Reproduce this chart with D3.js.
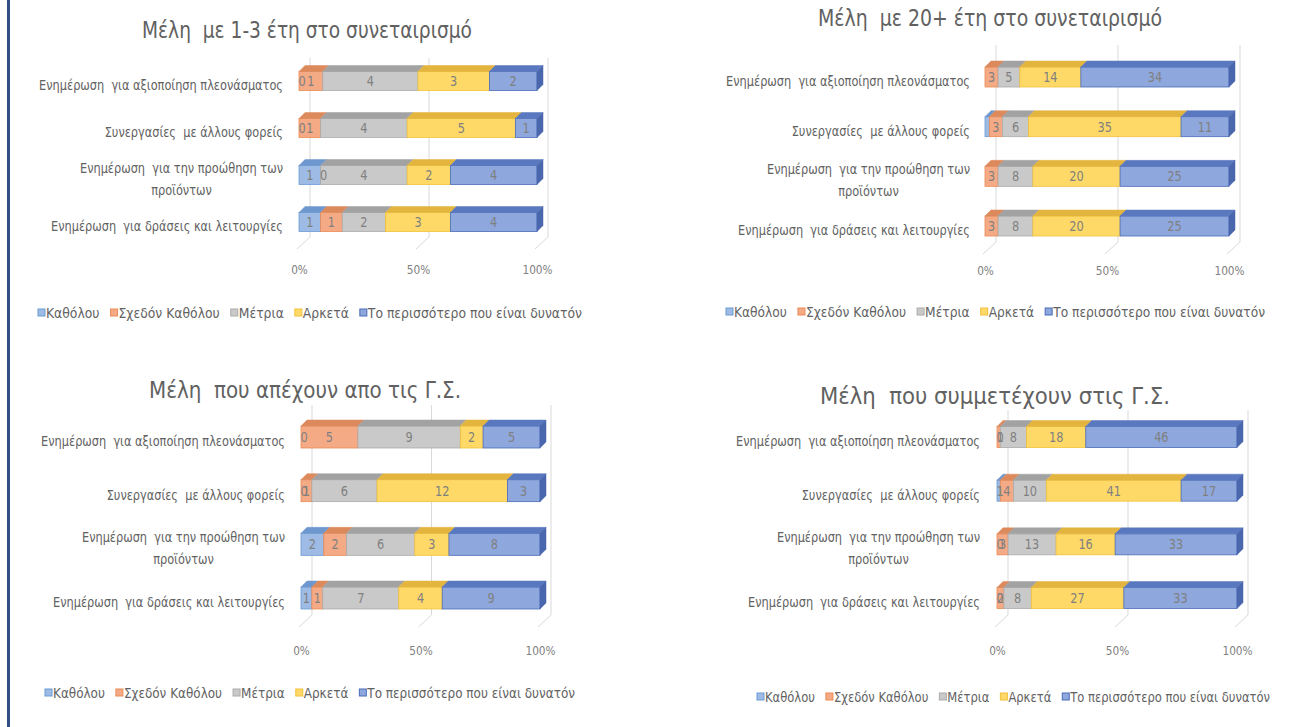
<!DOCTYPE html>
<html>
<head>
<meta charset="utf-8">
<script src="https://d3js.org/d3.v7.min.js"></script>
<style>
body { margin:0; background:#fff; }
text { font-family:"DejaVu Sans Condensed","DejaVu Sans",sans-serif; white-space:pre; }
</style>
</head>
<body>
<script>
// categories, top to bottom
var categories = [
  "Ενημέρωση  για αξιοποίηση πλεονάσματος",
  "Συνεργασίες  με άλλους φορείς",
  "Ενημέρωση  για την προώθηση των προϊόντων",
  "Ενημέρωση  για δράσεις και λειτουργίες"
];
var seriesNames = ["Καθόλου", "Σχεδόν Καθόλου", "Μέτρια", "Αρκετά", "Το περισσότερο που είναι δυνατόν"];
var titles = [
  "Μέλη  με 1-3 έτη στο συνεταιρισμό",
  "Μέλη  με 20+ έτη στο συνεταιρισμό",
  "Μέλη  που απέχουν απο τις Γ.Σ.",
  "Μέλη  που συμμετέχουν στις Γ.Σ."
];
var tickValues = [0, 0.5, 1];

// one row per category, one column per series (null = no value)
var members1to3 = [[0,1,4,3,2],[0,1,4,5,1],[1,0,4,2,4],[1,1,2,3,4]];
var members20plus = [[null,3,5,14,34],[1,3,6,35,11],[null,3,8,20,25],[null,3,8,20,25]];
var absentGA = [[0,5,9,2,5],[0,1,6,12,3],[2,2,6,3,8],[1,1,7,4,9]];
var presentGA = [[0,1,8,18,46],[1,4,10,41,17],[0,3,13,16,33],[0,2,8,27,33]];
// labels the original hides (row-series)
var hidden20plus = ["1-0"];

// colours per series: front, top, edge
var front = ["#9dbbe4", "#f5aa86", "#c9c9c9", "#ffd968", "#8ea7dd"];
var top_ = ["#6f97cf", "#dc8a5c", "#a2a2a2", "#e3b53e", "#5a78bf"];
var edge = ["#6a9bd3", "#ec8a55", "#ababab", "#f2c13a", "#4a6cb8"];
var side = "#4a66ad";

var svg = d3.select("body").append("svg")
  .attr("width", 1289).attr("height", 727);

svg.append("rect").attr("x", 7).attr("y", 0).attr("width", 3).attr("height", 727).attr("fill", "#2f4f80");

var panels = [
  {data: members1to3, hidden: [], title: titles[0], tx: 307, ty: 38, tw: 330, x0: 299, x1: 537, c0: 81, c1: 222, bh: 19,
   gTop: 58, gBot: 237, labR: 283, axY: 262, legX: 38, legW: 544, legY: 313},
  {data: members20plus, hidden: hidden20plus, title: titles[1], tx: 990, ty: 26, tw: 344, x0: 985, x1: 1229, c0: 77, c1: 226, bh: 20,
   gTop: 45, gBot: 242, labR: 970, axY: 263, legX: 726, legW: 539, legY: 312},
  {data: absentGA, hidden: [], title: titles[2], tx: 305, ty: 398, tw: 312, x0: 301, x1: 540, c0: 437, c1: 598, bh: 22,
   gTop: 405, gBot: 615, labR: 285, axY: 643, legX: 45, legW: 530, legY: 693},
  {data: presentGA, hidden: [], title: titles[3], tx: 995, ty: 404, tw: 350, x0: 997, x1: 1237, c0: 437, c1: 598, bh: 21,
   gTop: 410, gBot: 615, labR: 980, axY: 643, legX: 757, legW: 513, legY: 697}
];

var dx = 6, dy = 6, gOff = 11, squeeze = 0.9;

// narrow a text to mimic the condensed font of the original
function condense(sel, f) {
  var n = sel.node(), w = n.getComputedTextLength();
  if (w > 0) sel.attr("textLength", w * f).attr("lengthAdjust", "spacingAndGlyphs");
  return w * f;
}

panels.forEach(drawPanel);

function drawPanel(p) {
  var g = svg.append("g");
  var x = d3.scaleLinear().domain([0, 1]).range([p.x0, p.x1]);
  var y = d3.scalePoint().domain(categories).range([p.c0, p.c1]);

  // title
  var tt = g.append("text").attr("x", p.tx).attr("y", p.ty).attr("text-anchor", "middle")
    .attr("font-size", 23).attr("fill", "#616161").text(p.title);
  tt.attr("textLength", p.tw).attr("lengthAdjust", "spacingAndGlyphs");

  // gridlines: back wall + floor
  tickValues.forEach(function(t) {
    var gx = x(t) + gOff;
    g.append("line").attr("x1", gx).attr("x2", gx).attr("y1", p.gTop).attr("y2", p.gBot)
      .attr("stroke", "#d9d9d9").attr("stroke-width", 1);
    g.append("line").attr("x1", gx).attr("x2", x(t) - 2).attr("y1", p.gBot).attr("y2", p.gBot + 12)
      .attr("stroke", "#d9d9d9").attr("stroke-width", 1);
  });

  // axis
  var ax = g.append("g").attr("transform", "translate(0," + p.axY + ")")
    .call(d3.axisBottom(x).tickValues(tickValues).tickFormat(d3.format(".0%")).tickSize(0));
  ax.select(".domain").remove();
  ax.selectAll("text").attr("font-size", 13).attr("fill", "#808080")
    .attr("font-family", "DejaVu Sans Condensed, DejaVu Sans, sans-serif")
    .each(function() { condense(d3.select(this), squeeze); });

  // stack
  var rows = p.data.map(function(r, i) {
    var o = {cat: categories[i]};
    r.forEach(function(v, j) { o["s" + j] = v == null ? 0 : v; });
    return o;
  });
  var keys = seriesNames.map(function(d, j) { return "s" + j; });
  var stacked = d3.stack().keys(keys).offset(d3.stackOffsetExpand)(rows);

  categories.forEach(function(cat, i) {
    var cy = y(cat), yt = cy - p.bh / 2;
    var bar = g.append("g");
    var lastJ = -1;
    stacked.forEach(function(s, j) {
      if (x(s[i][1]) - x(s[i][0]) > 0.01) lastJ = j;
    });
    stacked.forEach(function(s, j) {
      var a = x(s[i][0]), b = x(s[i][1]), w = b - a;
      if (w <= 0.01) return;
      bar.append("rect").attr("x", a).attr("y", yt).attr("width", w).attr("height", p.bh)
        .attr("fill", front[j]).attr("stroke", edge[j]).attr("stroke-width", 0.8);
      bar.append("polygon")
        .attr("points", [[a, yt], [a + dx, yt - dy], [b + dx, yt - dy], [b, yt]].join(" "))
        .attr("fill", top_[j]).attr("stroke", top_[j]).attr("stroke-width", 0.5);
      if (j === lastJ) {
        bar.append("polygon")
          .attr("points", [[b, yt], [b + dx, yt - dy], [b + dx, yt - dy + p.bh], [b, yt + p.bh]].join(" "))
          .attr("fill", side).attr("stroke", side).attr("stroke-width", 0.5);
      }
    });
    // data labels
    stacked.forEach(function(s, j) {
      var v = p.data[i][j];
      if (v == null || p.hidden.indexOf(i + "-" + j) >= 0) return;
      var a = x(s[i][0]), b = x(s[i][1]);
      var lx = (b - a) < 4 ? a + 3 : (a + b) / 2;
      var t = bar.append("text").attr("x", lx).attr("y", cy + 5).attr("text-anchor", "middle")
        .attr("font-size", 14).attr("fill", "#808080").text(v);
      condense(t, squeeze);
    });

    // category label, wrapped like the original
    var words = cat.split(" "), lines = [], cur = "";
    var probe = g.append("text").attr("font-size", 14);
    words.forEach(function(wd) {
      var test = cur === "" ? wd : cur + " " + wd;
      probe.text(test);
      if (probe.node().getComputedTextLength() * squeeze > 255 && cur !== "") { lines.push(cur); cur = wd; }
      else cur = test;
    });
    lines.push(cur);
    var widths = lines.map(function(l) { probe.text(l); return probe.node().getComputedTextLength(); });
    probe.remove();
    var maxW = d3.max(widths) * squeeze;
    var lab = g.append("text").attr("text-anchor", "middle").attr("font-size", 14).attr("fill", "#626262");
    var lh = 22, y0 = cy + 9 - (lines.length - 1) * lh / 2;
    lines.forEach(function(l, k) {
      lab.append("tspan").attr("x", p.labR - maxW / 2).attr("y", y0 + k * lh)
        .attr("textLength", widths[k] * squeeze).attr("lengthAdjust", "spacingAndGlyphs").text(l);
    });
  });

  // legend: fixed gaps, text narrowed so the row fits the original's width
  var gap = 11, box = 8;
  var items = seriesNames.map(function(n, j) {
    var t = g.append("text").attr("y", p.legY + 5).attr("font-size", 14)
      .attr("fill", "#626262").text(n);
    return {t: t, w: t.node().getComputedTextLength(), j: j};
  });
  var natural = d3.sum(items, function(d) { return d.w; });
  var f = (p.legW - items.length * box - (items.length - 1) * gap) / natural;
  var lx = p.legX;
  items.forEach(function(d) {
    var w = d.w * f;
    g.append("rect").attr("x", lx).attr("y", p.legY - 4).attr("width", 7).attr("height", 7)
      .attr("fill", front[d.j]).attr("stroke", edge[d.j]).attr("stroke-width", 1);
    d.t.attr("x", lx + box).attr("textLength", w).attr("lengthAdjust", "spacingAndGlyphs");
    lx += box + w + gap;
  });
}
</script>
</body>
</html>
